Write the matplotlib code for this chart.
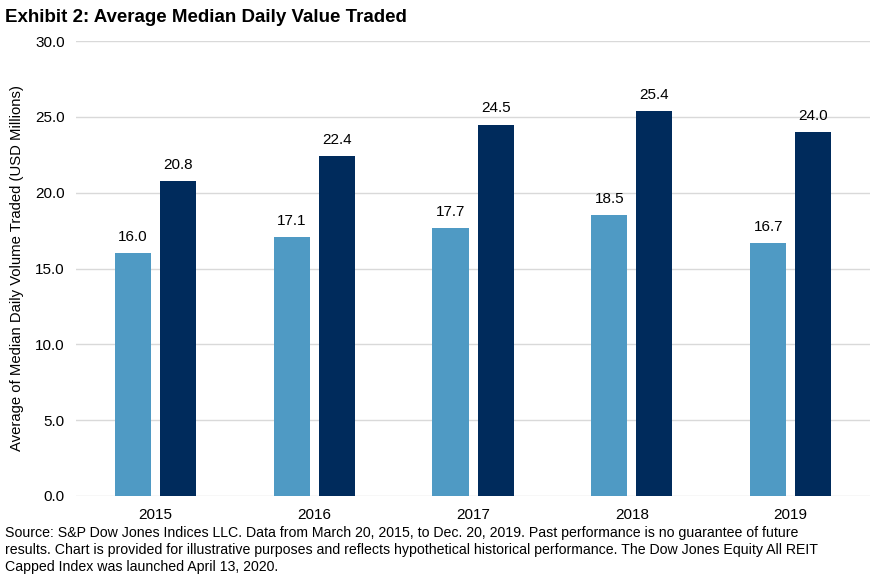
import numpy as np
import matplotlib.pyplot as plt

plt.rcParams['font.family'] = ['Liberation Sans', 'DejaVu Sans']

# data
years = ['2015', '2016', '2017', '2018', '2019']
light_vals = [16.0, 17.1, 17.7, 18.5, 16.7]
dark_vals = [20.8, 22.4, 24.5, 25.4, 24.0]
yticks = [0, 5, 10, 15, 20, 25, 30]

light_col = '#4F9AC4'
dark_col = '#002B5C'

fig = plt.figure(figsize=(8.78, 5.79), dpi=100)
ax = fig.add_axes([0.0866, 0.1434, 0.9044, 0.7856])

x = np.arange(len(years))
w = 0.227
off = (w + 0.057) / 2
b1 = ax.bar(x - off, light_vals, w, color=light_col, zorder=3)
b2 = ax.bar(x + off, dark_vals, w, color=dark_col, zorder=3)

for bars in (b1, b2):
    for b in bars:
        ax.text(b.get_x() + b.get_width() / 2, b.get_height() + 0.6,
                '%.1f' % b.get_height(), ha='center', va='bottom', fontsize=11)

ax.set_xlim(-0.5, len(years) - 0.5)
ax.set_ylim(0, 30)
ax.set_yticks(yticks)
ax.set_yticklabels(['%.1f' % v for v in yticks], fontsize=11)
ax.set_xticks(x)
ax.set_xticklabels(years, fontsize=11)
ax.tick_params(length=0, pad=8)
ax.tick_params(axis='x', pad=9)
ax.grid(axis='y', color='#D9D9D9', linewidth=1, zorder=0)
for s in ax.spines.values():
    s.set_visible(False)
ax.set_ylabel('Average of Median Daily Volume Traded (USD Millions)', fontsize=10.7, labelpad=8)

fig.text(0.006, 0.985, 'Exhibit 2: Average Median Daily Value Traded',
         fontsize=13.5, fontweight='bold', va='top', ha='left')
fig.text(0.006, 0.008,
         'Source: S&P Dow Jones Indices LLC. Data from March 20, 2015, to Dec. 20, 2019. Past performance is no guarantee of future\n'
         'results. Chart is provided for illustrative purposes and reflects hypothetical historical performance. The Dow Jones Equity All REIT\n'
         'Capped Index was launched April 13, 2020.',
         fontsize=10.2, va='bottom', ha='left', linespacing=1.28)

fig.savefig('out.png', dpi=100)
